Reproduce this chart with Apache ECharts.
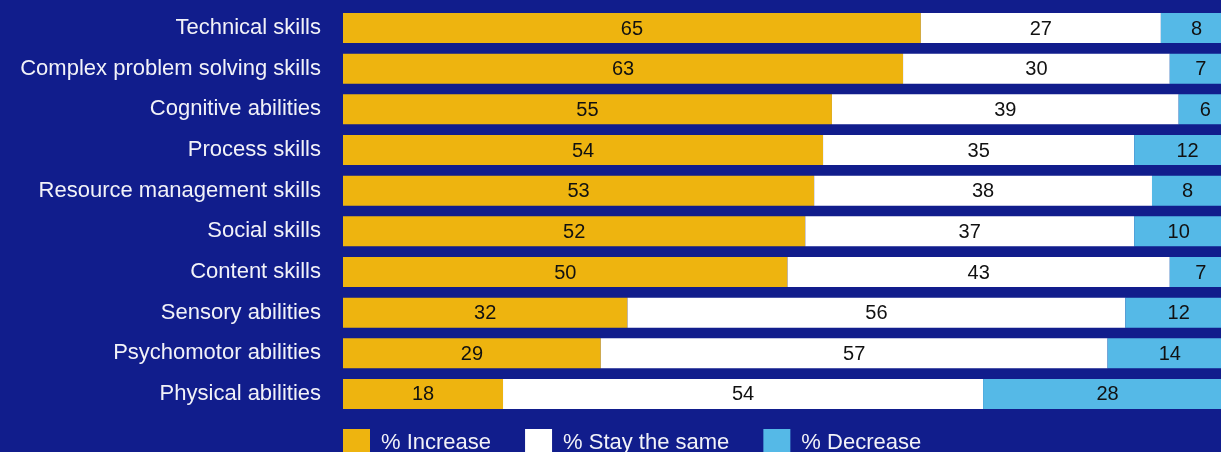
<!DOCTYPE html>
<html>
<head>
<meta charset="utf-8">
<script src="https://cdn.jsdelivr.net/npm/echarts@6/dist/echarts.min.js"></script>
<style>
html,body{margin:0;padding:0;background:#111d8c;}
#c{width:1221px;height:452px;}
</style>
</head>
<body>
<div id="c"></div>
<script>
const categories = ["Technical skills","Complex problem solving skills","Cognitive abilities","Process skills","Resource management skills","Social skills","Content skills","Sensory abilities","Psychomotor abilities","Physical abilities"];
const increase = [65,63,55,54,53,52,50,32,29,18];
const staySame = [27,30,39,35,38,37,43,56,57,54];
const decrease = [8,7,6,12,8,10,7,12,14,28];
const seriesNames = ["% Increase","% Stay the same","% Decrease"];
const colors = ["#eeb40f","#ffffff","#55b9e7"];

const chart = echarts.init(document.getElementById('c'));
const font = "'Liberation Sans', Arial, Helvetica, sans-serif";
const mk = (name, data, color) => ({
  name, type: 'bar', stack: 'all', data, barWidth: 30, clip: false,
  itemStyle: { color },
  label: { show: true, position: 'inside', color: '#111', fontSize: 20, fontFamily: font, offset: [0, 1] },
  emphasis: { disabled: true }
});
chart.setOption({
  backgroundColor: '#111d8c',
  animation: false,
  textStyle: { fontFamily: font },
  grid: { left: 343, width: 889, top: 7.7, bottom: 37.7, containLabel: false, outerBoundsMode: 'none' },
  xAxis: { type: 'value', min: 0, max: 100, show: false },
  yAxis: {
    type: 'category', data: categories, inverse: true,
    axisLine: { show: false }, axisTick: { show: false }, splitLine: { show: false },
    axisLabel: { color: '#f2f2f8', fontSize: 22, margin: 22, fontFamily: font }
  },
  legend: {
    left: 343, top: 429, padding: 0, itemWidth: 27, itemHeight: 27, itemGap: 34,
    icon: 'rect',
    textStyle: { color: '#f2f2f8', fontSize: 22, fontFamily: font, padding: [0, 0, 0, 6] },
    data: seriesNames
  },
  series: [
    mk(seriesNames[0], increase, colors[0]),
    mk(seriesNames[1], staySame, colors[1]),
    mk(seriesNames[2], decrease, colors[2])
  ]
});
</script>
</body>
</html>
